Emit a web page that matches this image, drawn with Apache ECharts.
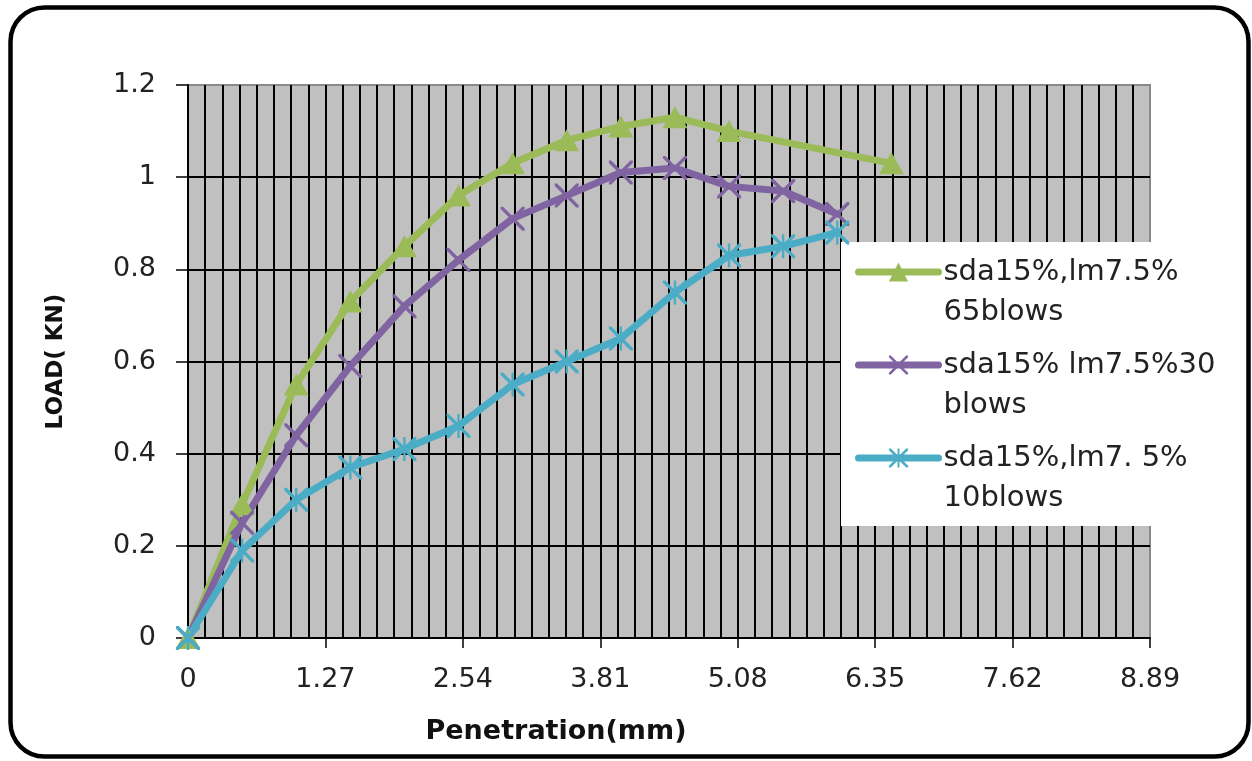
<!DOCTYPE html>
<html>
<head>
<meta charset="utf-8">
<script src="https://cdn.jsdelivr.net/npm/echarts@6/dist/echarts.min.js"></script>
<style>
  html, body { margin: 0; padding: 0; background: #fff; }
  #chart { width: 1252px; height: 761px; }
</style>
</head>
<body>
<div id="chart"></div>
<script>
// Penetration (mm) at each reading
const pen65 = [0, 0.5, 1, 1.5, 2, 2.5, 3, 3.5, 4, 4.5, 5, 6.5];
const pen30 = [0, 0.5, 1, 1.5, 2, 2.5, 3, 3.5, 4, 4.5, 5, 5.5, 6];
const pen10 = [0, 0.5, 1, 1.5, 2, 2.5, 3, 3.5, 4, 4.5, 5, 5.5, 6];

// Load (kN) for each compaction effort
const load65 = [0, 0.29, 0.55, 0.73, 0.85, 0.96, 1.03, 1.08, 1.11, 1.13, 1.10, 1.03];
const load30 = [0, 0.25, 0.44, 0.59, 0.72, 0.82, 0.91, 0.96, 1.01, 1.02, 0.98, 0.97, 0.92];
const load10 = [0, 0.19, 0.30, 0.37, 0.41, 0.46, 0.55, 0.60, 0.65, 0.75, 0.83, 0.85, 0.88];

const seriesNames = [
  'sda15%,lm7.5%\n65blows',
  'sda15% lm7.5%30\nblows',
  'sda15%,lm7. 5%\n10blows'
];

// x-axis ticks follow the standard 1.27 mm steps
const xTickStep = 1.27;
const xMax = 8.89;

const pairs = (xs, ys) => xs.map((x, i) => [x, ys[i]]);

// marker shapes: a cross and an asterisk made of thin bars
const crossPath = 'path://M0,0L2,0L20,18L20,20L18,20L0,2Z M18,0L20,0L20,2L2,20L0,20L0,18Z';
const starPath = 'path://M0,0L2,0L20,18L20,20L18,20L0,2Z M18,0L20,0L20,2L2,20L0,20L0,18Z M9,0L11,0L11,20L9,20Z';

const chart = echarts.init(document.getElementById('chart'), null, { renderer: 'canvas' });

const labelFont = 'DejaVu Sans';

chart.setOption({
  animation: false,
  backgroundColor: '#ffffff',
  graphic: [
    {
      type: 'rect',
      z: -10,
      shape: { x: 10.5, y: 7.5, width: 1238, height: 749, r: 34 },
      style: { fill: 'none', stroke: '#000', lineWidth: 4.5 }
    },
    {
      type: 'rect',
      z: 1,
      shape: { x: 841, y: 242, width: 311, height: 284 },
      style: { fill: '#ffffff', stroke: null }
    }
  ],
  grid: {
    left: 188, right: 102, top: 85, bottom: 123,
    show: true,
    backgroundColor: '#c0c0c0',
    borderColor: '#8a8a8a',
    borderWidth: 2
  },
  legend: {
    orient: 'vertical',
    left: 855,
    top: 212,
    padding: 0,
    itemWidth: 80,
    itemHeight: 24,
    itemGap: -27,
    selectedMode: false,
    data: seriesNames,
    // a leading blank line keeps the first text line level with the icon
    formatter: name => '\n' + name,
    lineStyle: { width: 7, cap: 'round' },
    textStyle: {
      fontFamily: labelFont,
      fontSize: 29,
      lineHeight: 40,
      color: '#222'
    }
  },
  xAxis: {
    type: 'value',
    min: 0,
    max: xMax,
    interval: xTickStep,
    name: 'Penetration(mm)',
    nameLocation: 'middle',
    nameGap: 80,
    nameTextStyle: {
      fontFamily: labelFont, fontSize: 27, fontWeight: 'bold', color: '#111',
      padding: [0, 226, 0, 0]
    },
    axisLine: { show: true, lineStyle: { color: '#000', width: 2 } },
    axisTick: { show: true, inside: false, length: 10, lineStyle: { color: '#000', width: 1.5 } },
    axisLabel: {
      fontFamily: labelFont, fontSize: 27, color: '#222', margin: 28,
      formatter: v => (v === 0 ? '0' : v.toFixed(2))
    },
    splitLine: { show: true, showMaxLine: false, lineStyle: { color: '#000', width: 2 } },
    minorTick: { show: false, splitNumber: 8 },
    minorSplitLine: { show: true, lineStyle: { color: '#000', width: 2 } }
  },
  yAxis: {
    type: 'value',
    min: 0,
    max: 1.2,
    interval: 0.2,
    name: 'LOAD( KN)',
    nameLocation: 'middle',
    nameGap: 120,
    nameTextStyle: { fontFamily: labelFont, fontSize: 23, fontWeight: 'bold', color: '#111' },
    axisLine: { show: true, lineStyle: { color: '#000', width: 2 } },
    axisTick: { show: true, inside: false, length: 12, lineStyle: { color: '#000', width: 1.5 } },
    axisLabel: { fontFamily: labelFont, fontSize: 27, color: '#222', margin: 32 },
    splitLine: { show: true, showMaxLine: false, lineStyle: { color: '#000', width: 2 } }
  },
  series: [
    {
      name: seriesNames[0],
      type: 'line',
      data: pairs(pen65, load65),
      symbol: 'triangle',
      symbolSize: [25, 22],
      color: '#9bbb59',
      lineStyle: { width: 7, color: '#9bbb59', cap: 'round', join: 'round' },
      itemStyle: { color: '#9bbb59' }
    },
    {
      name: seriesNames[1],
      type: 'line',
      data: pairs(pen30, load30),
      symbol: crossPath,
      symbolSize: 24,
      color: '#8064a2',
      lineStyle: { width: 7, color: '#8064a2', cap: 'round', join: 'round' },
      itemStyle: { color: '#8064a2' }
    },
    {
      name: seriesNames[2],
      type: 'line',
      data: pairs(pen10, load10),
      symbol: starPath,
      symbolSize: 24,
      color: '#4bacc6',
      lineStyle: { width: 7, color: '#4bacc6', cap: 'round', join: 'round' },
      itemStyle: { color: '#4bacc6' }
    }
  ]
});
</script>
</body>
</html>
